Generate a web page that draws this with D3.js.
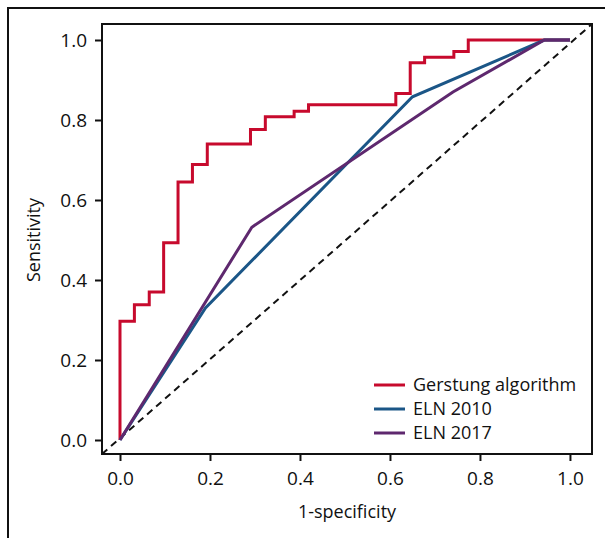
<!DOCTYPE html>
<html>
<head>
<meta charset="utf-8">
<script src="https://cdn.jsdelivr.net/npm/d3@7"></script>
<style>
  body { margin: 0; background: #fff; }
  text { font-family: "Open Sans", sans-serif; fill: #111; }
</style>
</head>
<body>
<svg id="chart" width="605" height="538"></svg>
<script>
// ROC curves
var gerstungFpr = [0, 0, 0.032, 0.065, 0.097, 0.129, 0.161, 0.194, 0.290, 0.323, 0.387, 0.419, 0.613, 0.645, 0.677, 0.742, 0.774, 1.0];
var gerstungTpr = [0, 0.297, 0.338, 0.370, 0.493, 0.645, 0.689, 0.740, 0.776, 0.808, 0.822, 0.838, 0.866, 0.943, 0.957, 0.971, 1.0, 1.0];

var eln2010Fpr = [0, 0.190, 0.650, 0.943, 1.0];
var eln2010Tpr = [0, 0.330, 0.858, 1.0, 1.0];

var eln2017Fpr = [0, 0.293, 0.740, 0.943, 1.0];
var eln2017Tpr = [0, 0.532, 0.870, 1.0, 1.0];

var tickValues = [0, 0.2, 0.4, 0.6, 0.8, 1.0];
var seriesNames = ["Gerstung algorithm", "ELN 2010", "ELN 2017"];
var seriesColors = ["#c70a2d", "#1b5687", "#5e286e"];

var svg = d3.select("#chart");

// outer frame of the figure panel (top and left edges only)
svg.append("path")
  .attr("d", "M8,538V8H605")
  .attr("fill", "none")
  .attr("stroke", "#111")
  .attr("stroke-width", 2);

var x = d3.scaleLinear().domain([-0.04, 1.049]).range([102, 592]);
var y = d3.scaleLinear().domain([-0.035, 1.04]).range([454, 24]);

function zip(xs, ys) {
  return xs.map(function(v, i) { return [v, ys[i]]; });
}

// chance diagonal
svg.append("line")
  .attr("x1", x(x.domain()[0])).attr("y1", y(y.domain()[0]))
  .attr("x2", x(x.domain()[1])).attr("y2", y(y.domain()[1]))
  .attr("stroke", "#111")
  .attr("stroke-width", 2)
  .attr("stroke-dasharray", "7,5");

var stepLine = d3.line().curve(d3.curveStepAfter)
  .x(function(d) { return x(d[0]); })
  .y(function(d) { return y(d[1]); });
var straightLine = d3.line()
  .x(function(d) { return x(d[0]); })
  .y(function(d) { return y(d[1]); });

svg.append("path")
  .attr("d", stepLine(zip(gerstungFpr, gerstungTpr)))
  .attr("fill", "none").attr("stroke", seriesColors[0]).attr("stroke-width", 3);
svg.append("path")
  .attr("d", straightLine(zip(eln2010Fpr, eln2010Tpr)))
  .attr("fill", "none").attr("stroke", seriesColors[1]).attr("stroke-width", 3);
svg.append("path")
  .attr("d", straightLine(zip(eln2017Fpr, eln2017Tpr)))
  .attr("fill", "none").attr("stroke", seriesColors[2]).attr("stroke-width", 3);

// plot box
svg.append("rect")
  .attr("x", x.range()[0]).attr("y", y.range()[1])
  .attr("width", x.range()[1] - x.range()[0])
  .attr("height", y.range()[0] - y.range()[1])
  .attr("fill", "none").attr("stroke", "#111").attr("stroke-width", 2);

var xAxis = svg.append("g")
  .attr("transform", "translate(0," + y.range()[0] + ")")
  .call(d3.axisBottom(x).tickValues(tickValues).tickFormat(d3.format(".1f")).tickSize(7).tickPadding(11));
var yAxis = svg.append("g")
  .attr("transform", "translate(" + x.range()[0] + ",0)")
  .call(d3.axisLeft(y).tickValues(tickValues).tickFormat(d3.format(".1f")).tickSize(7).tickPadding(8));

[xAxis, yAxis].forEach(function(g) {
  g.select(".domain").remove();
  g.selectAll(".tick line").attr("stroke", "#111").attr("stroke-width", 2);
  g.selectAll(".tick text")
    .style("font-family", "'Open Sans', sans-serif")
    .style("font-size", "19px")
    .attr("fill", "#111");
});

svg.append("text")
  .attr("x", 347).attr("y", 518)
  .attr("text-anchor", "middle")
  .style("font-size", "18px")
  .text("1-specificity");

svg.append("text")
  .attr("transform", "translate(34,240) rotate(-90)")
  .attr("text-anchor", "middle")
  .attr("dy", "0.35em")
  .style("font-size", "18px")
  .text("Sensitivity");

// legend
var legend = svg.append("g").attr("transform", "translate(374,385)");
seriesNames.forEach(function(name, i) {
  var row = legend.append("g").attr("transform", "translate(0," + (i * 24) + ")");
  row.append("line")
    .attr("x1", 0).attr("x2", 31).attr("y1", 0).attr("y2", 0)
    .attr("stroke", seriesColors[i]).attr("stroke-width", 3);
  row.append("text")
    .attr("x", 39).attr("dy", "0.35em")
    .style("font-size", "18px")
    .text(name);
});
</script>
</body>
</html>
